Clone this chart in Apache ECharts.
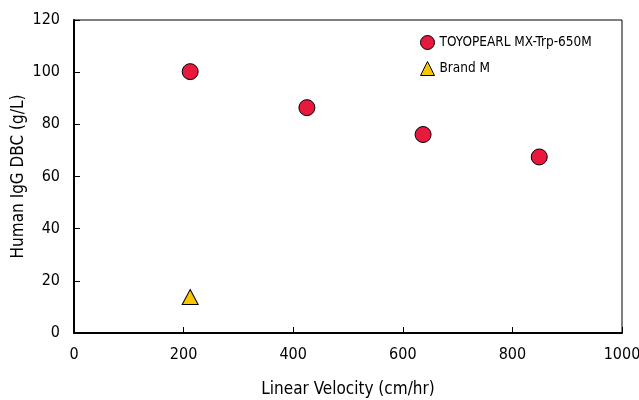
<!DOCTYPE html>
<html>
<head>
<meta charset="utf-8">
<script src="https://cdn.jsdelivr.net/npm/echarts@6/dist/echarts.min.js"></script>
<style>
  html, body { margin: 0; padding: 0; background: #fff; }
  #chart { width: 639px; height: 400px; }
</style>
</head>
<body>
<div id="chart"></div>
<script>
// values
const seriesNames = ['TOYOPEARL MX-Trp-650M', 'Brand M'];
const toyoVelocity = [212, 425, 637, 849];
const toyoDbc = [100.2, 86.4, 76.1, 67.5];
const brandVelocity = [212];
const brandDbc = [13.8];

const font = '"DejaVu Sans Condensed", "Liberation Sans Narrow", "Liberation Sans", sans-serif';

const chart = echarts.init(document.getElementById('chart'), undefined, { renderer: 'canvas' });

const pairs = (xs, ys) => xs.map((x, i) => [x, ys[i]]);

chart.setOption({
    animation: false,
    textStyle: { fontFamily: font, color: '#000' },
    grid: {
        left: 74, right: 17, top: 20, bottom: 67,
        containLabel: false, outerBoundsMode: 'none',
        show: true, borderColor: '#000', borderWidth: 1
    },
    legend: {
        orient: 'vertical',
        left: 415, top: 30,
        itemWidth: 14, itemHeight: 14, itemGap: 11,
        itemStyle: { borderWidth: 1, borderColor: '#000' },
        textStyle: { fontFamily: font, fontSize: 13.5, color: '#000' },
        data: seriesNames
    },
    xAxis: {
        type: 'value', min: 0, max: 1000, interval: 200,
        name: 'Linear Velocity (cm/hr)', nameLocation: 'middle', nameGap: 48,
        nameMoveOverlap: false,
        nameTextStyle: { fontFamily: font, fontSize: 17, color: '#000' },
        axisLine: { lineStyle: { color: '#000', width: 2 } },
        axisTick: { inside: true, length: 6, lineStyle: { color: '#000', width: 1 } },
        axisLabel: { fontFamily: font, fontSize: 16, color: '#000', margin: 14, formatter: v => String(v) },
        splitLine: { show: false }
    },
    yAxis: {
        type: 'value', min: 0, max: 120, interval: 20,
        name: 'Human IgG DBC (g/L)', nameLocation: 'middle', nameGap: 47,
        nameMoveOverlap: false,
        nameTextStyle: { fontFamily: font, fontSize: 17, color: '#000' },
        axisLine: { show: true, lineStyle: { color: '#000', width: 2 } },
        axisTick: { show: true, inside: true, length: 6, lineStyle: { color: '#000', width: 1 } },
        axisLabel: { fontFamily: font, fontSize: 16, color: '#000', margin: 14 },
        splitLine: { show: false }
    },
    series: [
        {
            name: seriesNames[0], type: 'scatter', symbol: 'circle', symbolSize: 16,
            itemStyle: { color: '#E8193C', borderColor: '#000', borderWidth: 1, opacity: 1 },
            data: pairs(toyoVelocity, toyoDbc)
        },
        {
            name: seriesNames[1], type: 'scatter', symbol: 'triangle', symbolSize: [16, 15],
            itemStyle: { color: '#F7C600', borderColor: '#000', borderWidth: 1, opacity: 1 },
            data: pairs(brandVelocity, brandDbc)
        }
    ]
});
</script>
</body>
</html>
